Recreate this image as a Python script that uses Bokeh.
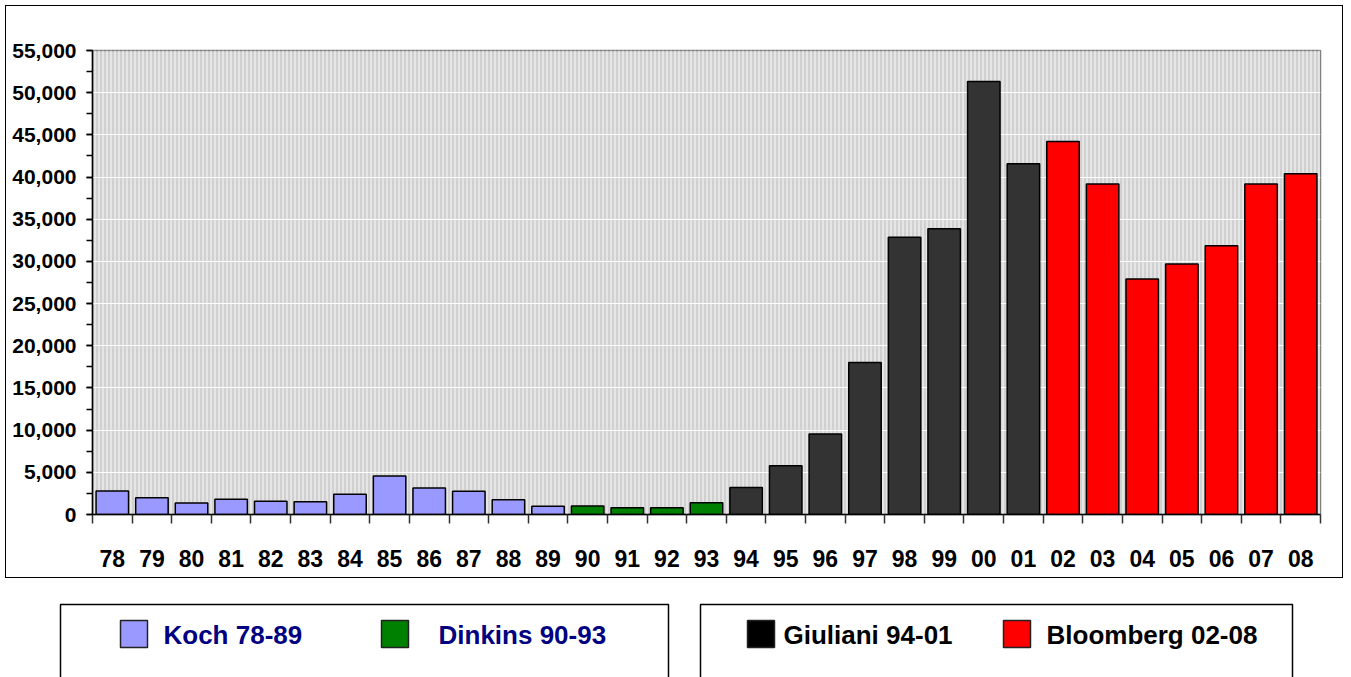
from bokeh.plotting import figure
from bokeh.layouts import column
from bokeh.models import (Range1d, FixedTicker, SingleIntervalTicker, NumeralTickFormatter,
                          CustomJSTickFormatter, BoxAnnotation, ColumnDataSource)
from bokeh.core.properties import value
from bokeh.embed import file_html
from bokeh.resources import INLINE

# ---------------- data ----------------
years = ["78", "79", "80", "81", "82", "83", "84", "85", "86", "87", "88", "89",
         "90", "91", "92", "93",
         "94", "95", "96", "97", "98", "99", "00", "01",
         "02", "03", "04", "05", "06", "07", "08"]
counts = [2800, 2000, 1360, 1800, 1560, 1520, 2400, 4570, 3150, 2750, 1760, 980,
          1000, 790, 790, 1400,
          3200, 5780, 9540, 18030, 32860, 33860, 51330, 41570,
          44210, 39190, 27920, 29700, 31870, 39190, 40380]
mayors = ["Koch"] * 12 + ["Dinkins"] * 4 + ["Giuliani"] * 8 + ["Bloomberg"] * 7
mayor_names = ["Koch", "Dinkins", "Giuliani", "Bloomberg"]
legend_labels = ["Koch 78-89", "Dinkins 90-93", "Giuliani 94-01", "Bloomberg 02-08"]
bar_colors = {"Koch": "#9999ff", "Dinkins": "#008000", "Giuliani": "#333333", "Bloomberg": "#ff0000"}
legend_swatch = {"Koch": "#9999ff", "Dinkins": "#008000", "Giuliani": "#000000", "Bloomberg": "#ff0000"}
legend_text_colors = {"Koch": "#000080", "Dinkins": "#000080", "Giuliani": "#000000", "Bloomberg": "#000000"}
y_max = 55000
y_step = 5000

FONT = "Liberation Sans"

# ---------------- chart ----------------
W, H = 1348, 583
FL, FR, FT, FB = 92, 28, 50, 69

src = ColumnDataSource(dict(
    x=[i + 0.5 for i in range(len(years))],
    count=counts,
    color=[bar_colors[m] for m in mayors],
))

p = figure(width=W, height=H, x_range=Range1d(0, len(years)), y_range=Range1d(0, y_max),
           output_backend="svg", toolbar_location=None,
           min_border_left=FL, min_border_right=FR, min_border_top=FT, min_border_bottom=FB,
           background_fill_color="#d0d0d0", border_fill_color="white", border_fill_alpha=0,
           outline_line_color="#808080", outline_line_width=1.5)
p.styles = {"outline": "1.5px solid black", "outline-offset": "-6px"}

# vertical stripes in plot background
stripes = BoxAnnotation(level="image", fill_alpha=0, line_alpha=0,
                        hatch_pattern="vertical_line", hatch_color="#ececec",
                        hatch_scale=4, hatch_weight=1.5)
p.add_layout(stripes)

p.vbar(x="x", top="count", bottom=0, width=0.82, source=src,
       fill_color="color", line_color="black", line_width=1.5)

p.xgrid.visible = False
p.ygrid.grid_line_color = "white"
p.ygrid.grid_line_width = 1.2

p.yaxis.ticker = SingleIntervalTicker(interval=y_step, num_minor_ticks=2)
p.yaxis.formatter = NumeralTickFormatter(format="0,0")
p.yaxis.major_label_text_font = FONT
p.yaxis.major_label_text_font_size = "21px"
p.yaxis.major_label_text_font_style = "bold"
p.yaxis.major_label_text_color = "black"
p.yaxis.major_label_standoff = 10
p.yaxis.major_tick_out = 6
p.yaxis.major_tick_in = 0
p.yaxis.minor_tick_out = 6
p.yaxis.minor_tick_in = 0
p.yaxis.axis_line_color = "black"
p.yaxis.axis_line_width = 1.5
p.yaxis.major_tick_line_width = 1.5
p.yaxis.minor_tick_line_width = 1.5

centers = [i + 0.5 for i in range(len(years))]
bounds = list(range(len(years) + 1))
p.xaxis.ticker = FixedTicker(ticks=centers, minor_ticks=bounds)
p.xaxis.formatter = CustomJSTickFormatter(args=dict(labels=years), code="""
    const i = Math.floor(tick);
    return (i >= 0 && i < labels.length) ? labels[i] : '';
""")
p.xaxis.major_label_text_font = FONT
p.xaxis.major_label_text_font_size = "23px"
p.xaxis.major_label_text_font_style = "bold"
p.xaxis.major_label_text_color = "black"
p.xaxis.major_label_standoff = 26
p.xaxis.major_tick_out = 0
p.xaxis.major_tick_in = 0
p.xaxis.minor_tick_out = 9
p.xaxis.minor_tick_in = 0
p.xaxis.minor_tick_line_color = "#333333"
p.xaxis.minor_tick_line_width = 1.5
p.xaxis.axis_line_color = "black"
p.xaxis.axis_line_width = 1.5

# ---------------- legend (separate panel below) ----------------
LH = 94
lg = figure(width=W, height=LH, x_range=Range1d(0, W), y_range=Range1d(LH, 0),
            output_backend="svg", toolbar_location=None,
            min_border_left=0, min_border_right=0, min_border_top=0, min_border_bottom=0,
            x_axis_type=None, y_axis_type=None, outline_line_color=None,
            background_fill_color="white", border_fill_color="white")
lg.grid.visible = False
for fig in (p, lg):
    if "frame_align" in fig.properties():
        fig.frame_align = False

box_left = [60, 700]
box_right = [668, 1292]
lg.quad(left=box_left, right=box_right, top=[21, 21], bottom=[140, 140],
        fill_color="white", line_color="black", line_width=1.5)

swatch_x = [120, 381, 747, 1003]
text_x = [163, 438, 783, 1046]
lg.quad(left=swatch_x, right=[x + 27 for x in swatch_x], top=[37] * 4, bottom=[64] * 4,
        fill_color=[legend_swatch[m] for m in mayor_names], line_color="#222222", line_width=1.5)
lg.text(x=text_x, y=[51] * 4, text=legend_labels,
        text_color=[legend_text_colors[m] for m in mayor_names],
        text_font=value(FONT), text_font_size="26px", text_font_style="bold",
        text_baseline="middle", text_align="left")

layout = column(p, lg, spacing=0)
open("out.html", "w").write(file_html(layout, INLINE))
